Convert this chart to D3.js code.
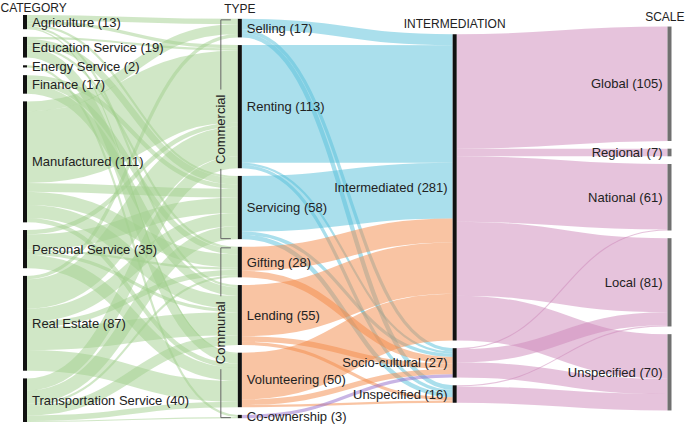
<!DOCTYPE html>
<html><head><meta charset="utf-8">
<script src="https://cdn.jsdelivr.net/npm/d3@7"></script>
<style>
body{margin:0;background:#fff}
text{font-family:"Liberation Sans",Arial,Helvetica,sans-serif;fill:#222}
</style>
</head><body><svg id="chart" width="685" height="425"></svg>
<script>
// ---------------- DATA ----------------
const categories = ["Agriculture","Education Service","Energy Service","Finance","Manufactured","Personal Service","Real Estate","Transportation Service"];
const types = ["Selling","Renting","Servicing","Gifting","Lending","Volunteering","Co-ownership"];
const typeGroups = ["Commercial","Commercial","Commercial","Communal","Communal","Communal","Co-ownership"];
const bracketGroups = [
  {name:"Commercial", first:"Selling", last:"Servicing"},
  {name:"Communal", first:"Gifting", last:"Co-ownership"}
];
const intermediations = ["Intermediated","Socio-cultural","Unspecified"];
const scales = ["Global","Regional","National","Local","Unspecified"];
const columnTitles = ["CATEGORY","TYPE","INTERMEDIATION","SCALE"];

// category -> type (rows: categories, columns: types)
const categoryTypeFlows = [
  [5, 3, 2, 0, 2, 1, 0],
  [0, 2, 6, 2, 0, 9, 0],
  [0, 0, 0, 0, 0, 0, 2],
  [0, 0, 4, 5, 8, 0, 0],
  [9,66, 8,12,12, 4, 0],
  [0, 4,14, 2, 3,12, 0],
  [3,27,12, 5,21,19, 0],
  [0,11,12, 2, 9, 5, 1]
];
// type -> intermediation (rows: types, columns: intermediations)
const typeIntermediationFlows = [
  [10, 3, 4],
  [108,2, 3],
  [51, 3, 4],
  [22, 6, 0],
  [47, 5, 3],
  [43, 5, 2],
  [0,  3, 0]
];
// intermediation -> scale (rows: intermediations, columns: scales)
const intermediationScaleFlows = [
  [105, 7, 60, 68, 41],
  [0,   0,  1, 12, 14],
  [0,   0,  0,  1, 15]
];

// ---------------- LAYOUT ----------------
const W = 685, H = 425;
const yTop = 15, yBottom = 422, nodePad = 7.7, nodeW = 4;
const columns = [categories, types, intermediations, scales];
const flows = [categoryTypeFlows, typeIntermediationFlows, intermediationScaleFlows];

const xCol = d3.scalePoint().domain(d3.range(columns.length)).range([23, 667.5]);

const nodes = [];
const nodeCols = columns.map((names, c) => names.map((name, i) => {
  const n = {name, col: c, index: i, sourceLinks: [], targetLinks: []};
  nodes.push(n);
  return n;
}));
const links = [];
flows.forEach((m, c) => {
  m.forEach((row, i) => row.forEach((v, j) => {
    if (v > 0) {
      const l = {source: nodeCols[c][i], target: nodeCols[c+1][j], value: v, stage: c};
      links.push(l);
      l.source.sourceLinks.push(l);
      l.target.targetLinks.push(l);
    }
  }));
});
nodes.forEach(n => {
  n.value = Math.max(d3.sum(n.sourceLinks, l => l.value), d3.sum(n.targetLinks, l => l.value));
});

const ky = d3.min(nodeCols, col => (yBottom - yTop - (col.length - 1) * nodePad) / d3.sum(col, n => n.value));
const total = d3.max(nodeCols, col => d3.sum(col, n => n.value));
const yVal = d3.scaleLinear().domain([0, total]).range([0, total * ky]);
const yMid = (yTop + yBottom) / 2;

nodeCols.forEach((col, c) => {
  const colH = yVal(d3.sum(col, n => n.value)) + (col.length - 1) * nodePad;
  let y = yMid - colH / 2;
  col.forEach(n => {
    n.x0 = xCol(c); n.x1 = n.x0 + nodeW;
    n.y0 = y; n.y1 = y + yVal(n.value);
    y = n.y1 + nodePad;
  });
});
links.forEach(l => l.width = yVal(l.value));
nodes.forEach(n => {
  n.sourceLinks.sort((a, b) => a.target.y0 - b.target.y0);
  n.targetLinks.sort((a, b) => a.source.y0 - b.source.y0);
  let y = n.y0;
  n.sourceLinks.forEach(l => { l.y0 = y + l.width / 2; y += l.width; });
  y = n.y0;
  n.targetLinks.forEach(l => { l.y1 = y + l.width / 2; y += l.width; });
});

// ---------------- DRAW ----------------
const svg = d3.select("#chart");
const groupColor = {Commercial: "#55bfd9", Communal: "#f38a47", "Co-ownership": "#9169c9"};
function linkColor(l) {
  if (l.stage === 0) return "#a2cf8e";
  if (l.stage === 1) return groupColor[typeGroups[l.source.index]];
  return "#cd87b9";
}
const linkPath = d3.linkHorizontal()
  .source(d => [d.source.x1, d.y0])
  .target(d => [d.target.x0, d.y1]);

svg.append("g").attr("fill", "none")
  .selectAll("path").data(links).join("path")
  .attr("d", linkPath)
  .attr("stroke", linkColor)
  .attr("stroke-opacity", 0.5)
  .attr("stroke-width", d => Math.max(1, d.width));

svg.append("g").selectAll("rect").data(nodes).join("rect")
  .attr("x", d => d.x0).attr("y", d => d.y0)
  .attr("width", d => d.x1 - d.x0)
  .attr("height", d => Math.max(1, d.y1 - d.y0))
  .attr("fill", d => d.col === 3 ? "#707070" : "#111");

svg.append("g").attr("font-size", 13).selectAll("text").data(nodes).join("text")
  .attr("x", d => d.col < 2 ? d.x1 + 5 : d.x0 - 5)
  .attr("y", d => (d.y0 + d.y1) / 2)
  .attr("dy", "0.35em")
  .attr("text-anchor", d => d.col < 2 ? "start" : "end")
  .text(d => `${d.name} (${d.value})`);

// column titles, centred on their column but kept inside the picture
const titles = svg.append("g").attr("font-size", 12).selectAll("text").data(columnTitles).join("text")
  .attr("y", (d, i) => Math.max(11.5, nodeCols[i][0].y0 - 6))
  .attr("text-anchor", "start")
  .text(d => d);
titles.each(function(d, i) {
  const w = this.getComputedTextLength();
  let x = xCol(i) + nodeW / 2 - w / 2;
  x = Math.max(0.5, Math.min(W - 0.5 - w, x));
  d3.select(this).attr("x", x);
});

// brackets for type groups
const bx = xCol(1) - 17, bt = xCol(1) - 7, gapPad = 5;
const bg = svg.append("g");
bracketGroups.forEach(g => {
  const a = nodeCols[1][types.indexOf(g.first)], b = nodeCols[1][types.indexOf(g.last)];
  const top = a.y0 + 1, bot = b.y1 - 0.5, mid = (top + bot) / 2;
  const t = bg.append("text")
    .attr("font-size", 13)
    .attr("transform", `translate(${bx},${mid}) rotate(-90)`)
    .attr("dy", "0.35em")
    .attr("text-anchor", "middle")
    .text(g.name);
  const half = t.node().getComputedTextLength() / 2 + gapPad;
  const p = d3.path();
  p.moveTo(bt, top); p.lineTo(bx, top); p.lineTo(bx, mid - half);
  p.moveTo(bx, mid + half); p.lineTo(bx, bot); p.lineTo(bt, bot);
  bg.append("path").attr("d", p.toString())
    .attr("fill", "none").attr("stroke", "#666").attr("stroke-width", 1);
});
</script>
</body></html>
